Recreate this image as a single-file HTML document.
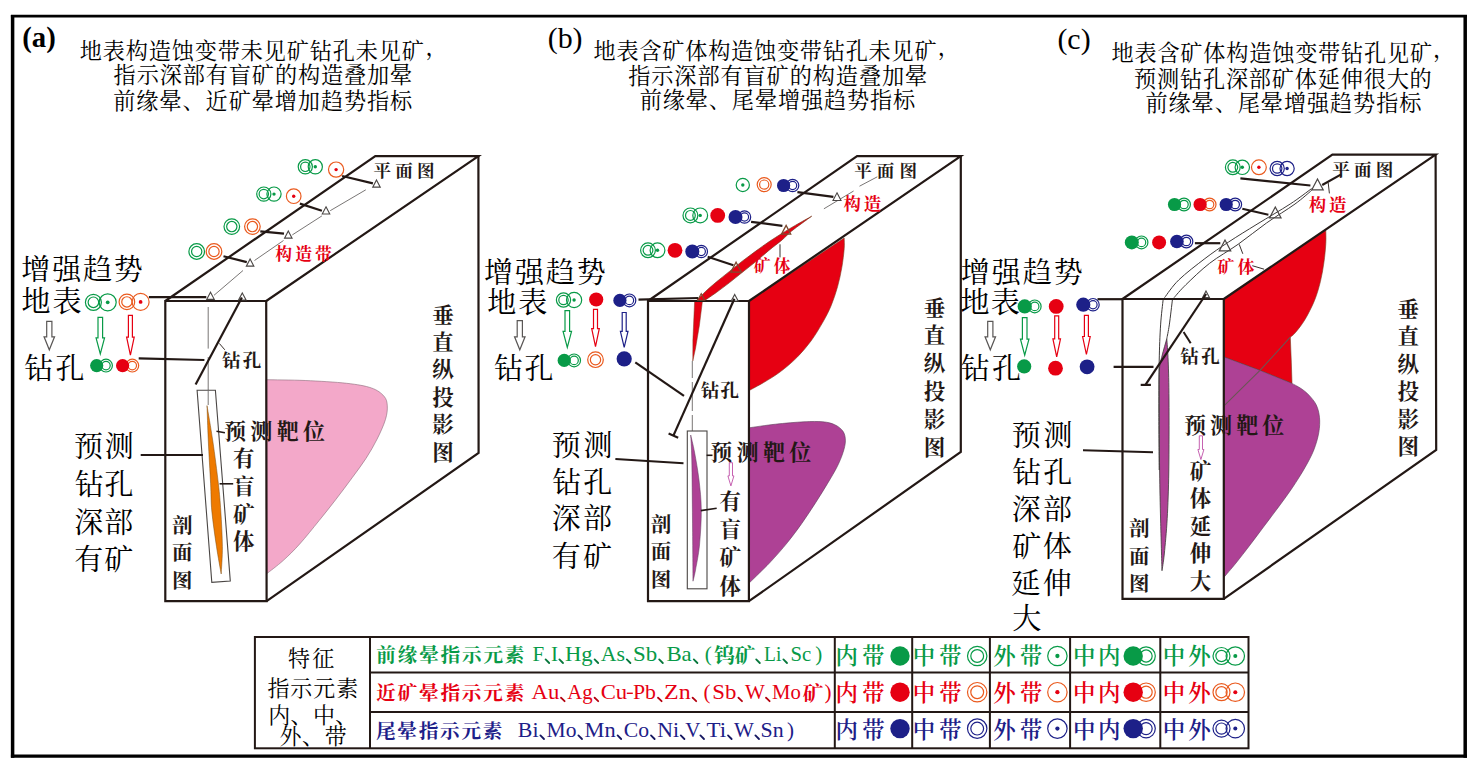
<!DOCTYPE html>
<html lang="zh"><head><meta charset="utf-8"><title>构造叠加晕找盲矿模型</title>
<style>html,body{margin:0;padding:0;background:#fff}body{width:1476px;height:760px;overflow:hidden;font-family:"Liberation Serif",serif}svg{display:block}svg text{font-family:"Liberation Serif","Noto Serif CJK SC",serif}</style>
</head><body>
<svg width="1476" height="760" viewBox="0 0 1476 760">
<rect width="1476" height="760" fill="#fff"/>
<path d="M12.6 14.9V757.8M1465.2 14.9V757.8" stroke="#000" stroke-width="3.5" fill="none"/>
<path d="M10.9 16.2H1467" stroke="#000" stroke-width="2.8" fill="none"/>
<path d="M10.9 756.2H1467" stroke="#000" stroke-width="3.2" fill="none"/>
<text x="22.3" y="47" font-family="'Liberation Serif',serif" font-size="29" font-weight="bold" fill="#000" textLength="33.5" lengthAdjust="spacingAndGlyphs">(a)</text>
<text x="79.87" y="59.01" font-size="22.2" fill="#000" textLength="344.14" lengthAdjust="spacing">地表构造蚀变带未见矿钻孔未见矿</text>
<text x="425.51" y="55.18" font-size="22.2" fill="#000">，</text>
<text x="113.6" y="83.39" font-size="22.2" fill="#000" textLength="298.71" lengthAdjust="spacing">指示深部有盲矿的构造叠加晕</text>
<text x="113.31" y="108.61" font-size="22.2" fill="#000" textLength="298.96" lengthAdjust="spacing">前缘晕、近矿晕增加趋势指标</text>
<text x="547.7" y="47.5" font-family="'Liberation Serif',serif" font-size="29" font-weight="normal" fill="#000" textLength="34.9" lengthAdjust="spacingAndGlyphs">(b)</text>
<text x="593.57" y="59.21" font-size="22.2" fill="#000" textLength="343.04" lengthAdjust="spacing">地表含矿体构造蚀变带钻孔未见矿</text>
<text x="937.71" y="55.38" font-size="22.2" fill="#000">，</text>
<text x="628.2" y="83.74" font-size="22.2" fill="#000" textLength="299.01" lengthAdjust="spacing">指示深部有盲矿的构造叠加晕</text>
<text x="639.81" y="108.23" font-size="22.2" fill="#000" textLength="275.36" lengthAdjust="spacing">前缘晕、尾晕增强趋势指标</text>
<text x="1057.4" y="48.5" font-family="'Liberation Serif',serif" font-size="29" font-weight="normal" fill="#000" textLength="33.2" lengthAdjust="spacingAndGlyphs">(c)</text>
<text x="1111.47" y="61.11" font-size="22.2" fill="#000" textLength="320.64" lengthAdjust="spacing">地表含矿体构造蚀变带钻孔见矿</text>
<text x="1433.11" y="57.13" font-size="22.2" fill="#000">，</text>
<text x="1134.02" y="86.69" font-size="22.2" fill="#000" textLength="297.76" lengthAdjust="spacing">预测钻孔深部矿体延伸很大的</text>
<text x="1145.41" y="111.38" font-size="22.2" fill="#000" textLength="276.06" lengthAdjust="spacing">前缘晕、尾晕增强趋势指标</text>
<path d="M266 379.7 L266 379.7 C272.53 379.83 291.75 379.9 305.2 380.5 C318.65 381.1 335.65 382.05 346.7 383.3 C357.75 384.55 365.28 385.85 371.5 388 C377.72 390.15 381.37 393.22 384 396.2 C386.63 399.18 387.07 401.98 387.3 405.9 C387.53 409.82 387.1 414.17 385.4 419.7 C383.7 425.23 380.33 432.65 377.1 439.1 C373.87 445.55 370.15 451.97 366 458.4 C361.85 464.83 357.27 470.8 352.2 477.7 C347.13 484.6 341.12 492.65 335.6 499.8 C330.08 506.95 325.08 513.23 319.1 520.6 C313.12 527.97 305.7 537.33 299.7 544 C293.7 550.67 288.63 555.62 283.1 560.6 C277.57 565.58 269.27 571.68 266.5 573.9 Z" fill="#f3a8c9" stroke="#8a6a78" stroke-width="0.6"/>
<path d="M165.3 301 L266.2 301 L266.6 601.2 L165.3 601.2 Z" fill="none" stroke="#231815" stroke-width="2.2" stroke-linejoin="miter"/>
<path d="M165.3 301 L375.3 156.1 L478.4 156.1 L266.2 301" fill="none" stroke="#231815" stroke-width="2.2" stroke-linejoin="miter"/>
<path d="M478.4 156.1 L478.6 453 L266.6 601.2" fill="none" stroke="#231815" stroke-width="2.2" stroke-linejoin="miter"/>
<line x1="365.8" y1="189.8" x2="330.2" y2="210.7" stroke="#6a6765" stroke-width="0.9" stroke-linecap="butt"/>
<line x1="321.9" y1="215.9" x2="292.3" y2="234.9" stroke="#6a6765" stroke-width="0.9" stroke-linecap="butt"/>
<line x1="283.5" y1="240.5" x2="254.5" y2="260.5" stroke="#6a6765" stroke-width="0.9" stroke-linecap="butt"/>
<line x1="243" y1="270.5" x2="214" y2="295.3" stroke="#6a6765" stroke-width="0.9" stroke-linecap="butt"/>
<line x1="342.1" y1="176" x2="372.9" y2="183.4" stroke="#231815" stroke-width="2.2" stroke-linecap="butt"/>
<line x1="299.9" y1="203.6" x2="321.9" y2="210.7" stroke="#231815" stroke-width="2.2" stroke-linecap="butt"/>
<line x1="260.3" y1="231.3" x2="284" y2="233.7" stroke="#231815" stroke-width="2.2" stroke-linecap="butt"/>
<line x1="223.5" y1="256.2" x2="246.8" y2="262.1" stroke="#231815" stroke-width="2.2" stroke-linecap="butt"/>
<path d="M376.5 180.03 L380.25 187.15 L372.75 187.15 Z" fill="#fff" stroke="#4a4644" stroke-width="1.1" stroke-linejoin="miter"/>
<path d="M326 206.82 L329.75 213.95 L322.25 213.95 Z" fill="#fff" stroke="#4a4644" stroke-width="1.1" stroke-linejoin="miter"/>
<path d="M288.3 231.03 L292.05 238.15 L284.55 238.15 Z" fill="#fff" stroke="#4a4644" stroke-width="1.1" stroke-linejoin="miter"/>
<path d="M250.1 259.03 L253.85 266.15 L246.35 266.15 Z" fill="#fff" stroke="#4a4644" stroke-width="1.1" stroke-linejoin="miter"/>
<path d="M210.5 292.23 L214.25 299.35 L206.75 299.35 Z" fill="#fff" stroke="#4a4644" stroke-width="1.1" stroke-linejoin="miter"/>
<path d="M242.3 292.93 L246.05 300.05 L238.55 300.05 Z" fill="#fff" stroke="#4a4644" stroke-width="1.1" stroke-linejoin="miter"/>
<g fill="none" stroke="#089a47" stroke-width="1.2"><circle cx="305.3" cy="166.8" r="7.1"/><circle cx="305.3" cy="166.8" r="4.69"/></g>
<circle cx="315.3" cy="166.8" r="7.1" fill="none" stroke="#089a47" stroke-width="1.2"/><circle cx="315.3" cy="166.8" r="1.7" fill="#089a47"/>
<circle cx="336.1" cy="169.6" r="7.6" fill="none" stroke="#ea5a1e" stroke-width="1.2"/><circle cx="336.1" cy="169.6" r="1.7" fill="#e60012"/>
<g fill="none" stroke="#089a47" stroke-width="1.2"><circle cx="263.8" cy="194.1" r="7.1"/><circle cx="263.8" cy="194.1" r="4.69"/></g>
<circle cx="274" cy="194.1" r="7.1" fill="none" stroke="#089a47" stroke-width="1.2"/><circle cx="274" cy="194.1" r="1.7" fill="#089a47"/>
<circle cx="293.7" cy="196.2" r="7.3" fill="none" stroke="#ea5a1e" stroke-width="1.2"/><circle cx="293.7" cy="196.2" r="1.7" fill="#e60012"/>
<g fill="none" stroke="#089a47" stroke-width="1.2"><circle cx="231.8" cy="226.6" r="7.8"/><circle cx="231.8" cy="226.6" r="5.15"/></g>
<g fill="none" stroke="#ea5a1e" stroke-width="1.2"><circle cx="252.4" cy="226.6" r="7.8"/><circle cx="252.4" cy="226.6" r="5.15"/></g>
<g fill="none" stroke="#089a47" stroke-width="1.2"><circle cx="196.7" cy="251.5" r="7.8"/><circle cx="196.7" cy="251.5" r="5.15"/></g>
<g fill="none" stroke="#ea5a1e" stroke-width="1.2"><circle cx="214" cy="251.5" r="7.8"/><circle cx="214" cy="251.5" r="5.15"/></g>
<text x="373.47 395.18 416.89" y="177.44" font-size="17.6" font-weight="bold" fill="#231815">平面图</text>
<text x="275.33 295.15 314.97" y="259.84" font-size="16.8" font-weight="bold" fill="#e60012">构造带</text>
<text x="21.37 52.18 82.99 113.8" y="280.12" font-size="29" fill="#000">增强趋势</text>
<text x="21.54 52.53" y="312.42" font-size="29" fill="#000">地表</text>
<text x="24.27 55.6" y="379.18" font-size="29" fill="#000">钻孔</text>
<g fill="none" stroke="#089a47" stroke-width="1.2"><circle cx="93.4" cy="302.3" r="8"/><circle cx="93.4" cy="302.3" r="5.28"/></g>
<circle cx="107.7" cy="302.3" r="8.5" fill="none" stroke="#089a47" stroke-width="1.2"/><circle cx="107.7" cy="302.3" r="1.87" fill="#089a47"/>
<g fill="none" stroke="#ea5a1e" stroke-width="1.2"><circle cx="126.9" cy="301.9" r="7.8"/><circle cx="126.9" cy="301.9" r="5.15"/></g>
<circle cx="140.6" cy="301.9" r="8.5" fill="none" stroke="#ea5a1e" stroke-width="1.2"/><circle cx="140.6" cy="301.9" r="1.87" fill="#e60012"/>
<path d="M46.7 321.3 L51.9 321.3 L51.9 336.8 L54.55 336.8 L49.3 349.8 L44.05 336.8 L46.7 336.8 Z" fill="#fff" stroke="#5a5756" stroke-width="1.2" stroke-linejoin="miter"/>
<path d="M98 317.3 L102.6 317.3 L102.6 337.8 L104.55 337.8 L100.3 353.8 L96.05 337.8 L98 337.8 Z" fill="#fff" stroke="#089a47" stroke-width="1.2" stroke-linejoin="miter"/>
<path d="M128.4 315.4 L132.4 315.4 L132.4 337.2 L134.2 337.2 L130.4 355.2 L126.6 337.2 L128.4 337.2 Z" fill="#fff" stroke="#e60012" stroke-width="1.2" stroke-linejoin="miter"/>
<g fill="none" stroke="#089a47" stroke-width="1.2"><circle cx="106" cy="365.6" r="6.4"/><circle cx="106" cy="365.6" r="4.22"/></g>
<circle cx="96.7" cy="365.6" r="6.6" fill="#089a47"/>
<g fill="none" stroke="#ea5a1e" stroke-width="1.2"><circle cx="132.3" cy="365.6" r="6.4"/><circle cx="132.3" cy="365.6" r="4.22"/></g>
<circle cx="122.6" cy="365.6" r="6.6" fill="#e60012"/>
<line x1="148.9" y1="297.1" x2="206.3" y2="297.1" stroke="#231815" stroke-width="2.2" stroke-linecap="butt"/>
<line x1="138.7" y1="358.4" x2="204.4" y2="360" stroke="#231815" stroke-width="2.2" stroke-linecap="butt"/>
<line x1="208.2" y1="307" x2="208.2" y2="348.6" stroke="#6a6765" stroke-width="0.9" stroke-linecap="butt"/>
<line x1="208.2" y1="357" x2="208.2" y2="404" stroke="#6a6765" stroke-width="0.9" stroke-linecap="butt"/>
<line x1="241.9" y1="297.6" x2="195.6" y2="384.6" stroke="#231815" stroke-width="2.2" stroke-linecap="butt"/>
<line x1="219.3" y1="343.4" x2="224.8" y2="349.8" stroke="#231815" stroke-width="0.9" stroke-linecap="butt"/>
<text x="222.03 242.86" y="366.62" font-size="18.5" font-weight="bold" fill="#231815">钻孔</text>
<path d="M197.1 390.2 L215.4 390.2 L230.3 581.1 L211.8 582.3 Z" fill="#fff" stroke="#4a4644" stroke-width="1.1" stroke-linejoin="miter"/>
<path d="M207 405.6 C207.22 411.5 207.7 427.97 208.3 441 C208.9 454.03 210.02 472.13 210.6 483.8 C211.18 495.47 210.82 500.52 211.8 511 C212.78 521.48 214.93 536.2 216.5 546.7 C218.07 557.2 220.42 569.45 221.2 574 L221.2 574 C221.4 569.45 222.47 557.2 222.4 546.7 C222.33 536.2 221.47 521.48 220.8 511 C220.13 500.52 219.73 495.47 218.4 483.8 C217.07 472.13 214.7 454.03 212.8 441 C210.9 427.97 207.97 411.5 207 405.6 Z" fill="#ee7a00" stroke="#7a4a10" stroke-width="0.5"/>
<line x1="208.2" y1="391" x2="208.2" y2="405" stroke="#6a6765" stroke-width="0.9" stroke-linecap="butt"/>
<line x1="140.7" y1="454.9" x2="203" y2="454.9" stroke="#231815" stroke-width="2" stroke-linecap="butt"/>
<line x1="216.5" y1="431.2" x2="224.9" y2="432.8" stroke="#231815" stroke-width="1.6" stroke-linecap="butt"/>
<line x1="219.6" y1="483.8" x2="233.2" y2="483.8" stroke="#231815" stroke-width="1.6" stroke-linecap="butt"/>
<text x="223.98 250.36 276.74 303.12" y="438.74" font-size="22" font-weight="bold" fill="#231815">预测靶位</text>
<text x="233.05 233.05 233.05 233.05" y="466.17 493.87 521.57 549.27" font-size="21.5" font-weight="bold" fill="#231815">有盲矿体</text>
<text x="171.95 171.95 171.95" y="532.59 560.09 587.59" font-size="20.5" font-weight="bold" fill="#231815">剖面图</text>
<text x="432.25 432.25 432.25 432.25 432.25 432.25" y="322.67 350.07 377.47 404.87 432.27 459.67" font-size="21.5" font-weight="bold" fill="#231815">垂直纵投影图</text>
<text x="74.12 104.75" y="457.26" font-size="29" fill="#000">预测</text>
<text x="74.68 104.4" y="495.48" font-size="29" fill="#000">钻孔</text>
<text x="74.21 104.14" y="532.86" font-size="29" fill="#000">深部</text>
<text x="74.21 104.23" y="569.58" font-size="29" fill="#000">有矿</text>
<path d="M749 301.2 L844.2 238 L844.2 238 C844.2 239.78 844.6 243.77 844.2 248.7 C843.8 253.63 842.9 261.28 841.8 267.6 C840.7 273.92 839.37 280.28 837.6 286.6 C835.83 292.92 833.65 299.58 831.2 305.5 C828.75 311.42 826.27 316.18 822.9 322.1 C819.53 328.02 815.35 335.08 811 341 C806.65 346.92 801.92 352.47 796.8 357.6 C791.68 362.73 785.82 367.65 780.3 371.8 C774.78 375.95 768.92 379.37 763.7 382.5 C758.48 385.63 751.45 389.25 749 390.6 Z" fill="#e60012" stroke="#7a3a20" stroke-width="0.6"/>
<path d="M749 427.8 C753.42 427.2 766.35 425.2 775.5 424.2 C784.65 423.2 796 422.2 803.9 421.8 C811.8 421.4 817.77 421.32 822.9 421.8 C828.03 422.28 831.35 423.12 834.7 424.7 C838.05 426.28 841.22 428.62 843 431.3 C844.78 433.98 845.4 437.25 845.4 440.8 C845.4 444.35 844.38 448.27 843 452.6 C841.62 456.93 839.67 461.67 837.1 466.8 C834.53 471.93 831.15 477.47 827.6 483.4 C824.05 489.33 820.13 495.68 815.8 502.4 C811.47 509.12 806.33 517 801.6 523.7 C796.87 530.4 792.53 536.28 787.4 542.6 C782.27 548.92 775.93 556.07 770.8 561.6 C765.67 567.13 760.23 572.2 756.6 575.8 C752.97 579.4 750.27 581.97 749 583.2 Z" fill="#ae4195" stroke="#5a3a58" stroke-width="0.6"/>
<path d="M695.6 301 C695.98 300.68 696.2 300.73 697.9 299.1 C699.6 297.47 702.73 294.05 705.8 291.2 C708.87 288.35 712.35 285.3 716.3 282 C720.25 278.7 725.12 274.92 729.5 271.4 C733.88 267.88 738.22 264.28 742.6 260.9 C746.98 257.52 751.42 254.28 755.8 251.1 C760.18 247.92 764.52 244.77 768.9 241.8 C773.28 238.83 777.7 236.03 782.1 233.3 C786.5 230.57 790.37 228.25 795.3 225.4 C800.23 222.55 808.97 217.73 811.7 216.2 L811.7 216.2 C810.05 217.4 805.2 220.88 801.8 223.4 C798.4 225.92 794.58 228.55 791.3 231.3 C788.02 234.05 785.83 236.72 782.1 239.9 C778.37 243.08 773.28 246.78 768.9 250.4 C764.52 254.02 760.18 257.98 755.8 261.6 C751.42 265.22 746.98 268.6 742.6 272.1 C738.22 275.6 733.88 279.2 729.5 282.6 C725.12 286 720.47 289.5 716.3 292.5 C712.13 295.5 706.47 299.25 704.5 300.6 Z" fill="#e60012" stroke="#7a3a20" stroke-width="0.7"/>
<path d="M694.6 301.5 L702.4 301.5 L699.3 326 L695.6 348 L692.8 361 L692.9 340 Z" fill="#e60012" stroke="#7a3a20" stroke-width="0.5" stroke-linejoin="miter"/>
<path d="M648 301 L749 301 L748.9 601.2 L648 601.2 Z" fill="none" stroke="#231815" stroke-width="2.2" stroke-linejoin="miter"/>
<path d="M648 301 L857.1 156.1 L960.8 156.1 L749 301" fill="none" stroke="#231815" stroke-width="2.2" stroke-linejoin="miter"/>
<path d="M960.8 156.1 L960.8 452 L748.9 601.2" fill="none" stroke="#231815" stroke-width="2.2" stroke-linejoin="miter"/>
<line x1="823.9" y1="208.8" x2="853.6" y2="191" stroke="#6a6765" stroke-width="0.9" stroke-linecap="butt"/>
<line x1="859.5" y1="186.2" x2="877.3" y2="176.8" stroke="#6a6765" stroke-width="0.9" stroke-linecap="butt"/>
<line x1="797.4" y1="192.2" x2="833.4" y2="196.9" stroke="#231815" stroke-width="2.2" stroke-linecap="butt"/>
<line x1="751.1" y1="221.8" x2="782.4" y2="225.8" stroke="#231815" stroke-width="2.2" stroke-linecap="butt"/>
<line x1="707.7" y1="256.7" x2="733.4" y2="265.2" stroke="#231815" stroke-width="2.2" stroke-linecap="butt"/>
<line x1="638.5" y1="299.6" x2="698.3" y2="298" stroke="#231815" stroke-width="2.2" stroke-linecap="butt"/>
<path d="M837 192.84 L841 200.44 L833 200.44 Z" fill="#fff" stroke="#4a4644" stroke-width="1.1" stroke-linejoin="miter"/>
<path d="M786.1 225.36 L790.7 234.1 L781.5 234.1 Z" fill="none" stroke="#7d4a30" stroke-width="1.3" stroke-linejoin="miter"/>
<path d="M736.1 262.21 L741.35 272.19 L730.85 272.19 Z" fill="none" stroke="#7d4a30" stroke-width="1.3" stroke-linejoin="miter"/>
<path d="M701.2 293.61 L704.7 300.26 L697.7 300.26 Z" fill="none" stroke="#7d4a30" stroke-width="1.1" stroke-linejoin="miter"/>
<path d="M734.7 294.41 L738.2 301.06 L731.2 301.06 Z" fill="#fff" stroke="#4a4644" stroke-width="1.1" stroke-linejoin="miter"/>
<line x1="780" y1="244.3" x2="780" y2="257.4" stroke="#231815" stroke-width="0.9" stroke-linecap="butt"/>
<circle cx="742.8" cy="185" r="6.6" fill="none" stroke="#089a47" stroke-width="1.2"/><circle cx="742.8" cy="185" r="1.7" fill="#089a47"/>
<g fill="none" stroke="#ea5a1e" stroke-width="1.2"><circle cx="764.2" cy="184.6" r="7"/><circle cx="764.2" cy="184.6" r="4.62"/></g>
<g fill="none" stroke="#1d2088" stroke-width="1.2"><circle cx="792.6" cy="185.5" r="6.2"/><circle cx="792.6" cy="185.5" r="4.09"/></g>
<circle cx="783.6" cy="185.5" r="6.6" fill="#1d2088"/>
<g fill="none" stroke="#089a47" stroke-width="1.2"><circle cx="690.4" cy="215.4" r="7.4"/><circle cx="690.4" cy="215.4" r="4.88"/></g>
<circle cx="700.2" cy="215.4" r="7.4" fill="none" stroke="#089a47" stroke-width="1.2"/><circle cx="700.2" cy="215.4" r="1.7" fill="#089a47"/>
<circle cx="717.7" cy="215.4" r="7.4" fill="#e60012"/>
<g fill="none" stroke="#1d2088" stroke-width="1.2"><circle cx="744.5" cy="217" r="6.2"/><circle cx="744.5" cy="217" r="4.09"/></g>
<circle cx="735.5" cy="217" r="7" fill="#1d2088"/>
<g fill="none" stroke="#089a47" stroke-width="1.2"><circle cx="648" cy="250.3" r="7.4"/><circle cx="648" cy="250.3" r="4.88"/></g>
<circle cx="657.5" cy="250.3" r="7.4" fill="none" stroke="#089a47" stroke-width="1.2"/><circle cx="657.5" cy="250.3" r="1.7" fill="#089a47"/>
<circle cx="675" cy="250.3" r="7.4" fill="#e60012"/>
<g fill="none" stroke="#1d2088" stroke-width="1.2"><circle cx="701.3" cy="251.5" r="6.2"/><circle cx="701.3" cy="251.5" r="4.09"/></g>
<circle cx="692.3" cy="251.5" r="7" fill="#1d2088"/>
<text x="854.17 876.83 899.49" y="177.09" font-size="17.6" font-weight="bold" fill="#231815">平面图</text>
<text x="843.62 863.87" y="210.02" font-size="17.4" font-weight="bold" fill="#e60012">构造</text>
<text x="753.7 773.75" y="272.07" font-size="16.8" font-weight="bold" fill="#e60012">矿体</text>
<text x="484.07 514.95 545.82 576.7" y="282.87" font-size="29" fill="#000">增强趋势</text>
<text x="487.34 518.33" y="312.67" font-size="29" fill="#000">地表</text>
<text x="493.97 524.4" y="378.58" font-size="29" fill="#000">钻孔</text>
<g fill="none" stroke="#089a47" stroke-width="1.2"><circle cx="563.5" cy="300" r="7.1"/><circle cx="563.5" cy="300" r="4.69"/></g>
<circle cx="574.1" cy="300" r="7.6" fill="none" stroke="#089a47" stroke-width="1.2"/><circle cx="574.1" cy="300" r="1.7" fill="#089a47"/>
<circle cx="596.2" cy="299.5" r="7.1" fill="#e60012"/>
<g fill="none" stroke="#1d2088" stroke-width="1.2"><circle cx="629.4" cy="300.4" r="6.4"/><circle cx="629.4" cy="300.4" r="4.22"/></g>
<circle cx="619.9" cy="300.4" r="6.6" fill="#1d2088"/>
<path d="M517.2 320.6 L522.4 320.6 L522.4 336.8 L525.05 336.8 L519.8 349.8 L514.55 336.8 L517.2 336.8 Z" fill="#fff" stroke="#5a5756" stroke-width="1.2" stroke-linejoin="miter"/>
<path d="M565 310.6 L569.6 310.6 L569.6 331.4 L571.55 331.4 L567.3 347.4 L563.05 331.4 L565 331.4 Z" fill="#fff" stroke="#089a47" stroke-width="1.2" stroke-linejoin="miter"/>
<path d="M593.5 309.4 L597.5 309.4 L597.5 328.7 L599.3 328.7 L595.5 346.7 L591.7 328.7 L593.5 328.7 Z" fill="#fff" stroke="#e60012" stroke-width="1.2" stroke-linejoin="miter"/>
<path d="M622.2 312.5 L626.2 312.5 L626.2 331.4 L628 331.4 L624.2 347.4 L620.4 331.4 L622.2 331.4 Z" fill="#fff" stroke="#1d2088" stroke-width="1.2" stroke-linejoin="miter"/>
<g fill="none" stroke="#089a47" stroke-width="1.2"><circle cx="574.1" cy="360.4" r="6.4"/><circle cx="574.1" cy="360.4" r="4.22"/></g>
<circle cx="564.2" cy="360.4" r="6.6" fill="#089a47"/>
<g fill="none" stroke="#ea5a1e" stroke-width="1.2"><circle cx="595.5" cy="359.7" r="7.8"/><circle cx="595.5" cy="359.7" r="5.15"/></g>
<circle cx="624.2" cy="358.8" r="7.6" fill="#1d2088"/>
<line x1="635.3" y1="362.3" x2="684" y2="395.8" stroke="#231815" stroke-width="2.2" stroke-linecap="butt"/>
<line x1="692.3" y1="361" x2="692.3" y2="378" stroke="#6a6765" stroke-width="0.9" stroke-linecap="butt"/>
<line x1="692.3" y1="382" x2="692.3" y2="411" stroke="#6a6765" stroke-width="0.9" stroke-linecap="butt"/>
<line x1="692.3" y1="415" x2="692.3" y2="431" stroke="#6a6765" stroke-width="0.9" stroke-linecap="butt"/>
<line x1="734.4" y1="298.8" x2="673.4" y2="435.6" stroke="#231815" stroke-width="2.2" stroke-linecap="butt"/>
<line x1="668.6" y1="433.6" x2="678.2" y2="437.8" stroke="#231815" stroke-width="2.2" stroke-linecap="butt"/>
<text x="700.63 720.55" y="396.52" font-size="18.5" font-weight="bold" fill="#231815">钻孔</text>
<rect x="687.3" y="431" width="19.7" height="157.8" fill="#fff" stroke="#4a4644" stroke-width="1.1"/>
<path d="M690.7 435 C690.88 439.17 691.5 445.83 691.8 460 C692.1 474.17 692.3 499.8 692.5 520 C692.7 540.2 692.92 571 693 581.2 L693 581.2 C693.42 579.33 694.42 576.03 695.5 570 C696.58 563.97 698.53 555 699.5 545 C700.47 535 701.38 520.83 701.3 510 C701.22 499.17 700.13 489.67 699 480 C697.87 470.33 695.88 459.5 694.5 452 C693.12 444.5 691.33 437.83 690.7 435 Z" fill="#ae4195" stroke="#5a3a58" stroke-width="0.5"/>
<line x1="615.4" y1="459.1" x2="683.5" y2="463.2" stroke="#231815" stroke-width="2" stroke-linecap="butt"/>
<line x1="706.6" y1="455.3" x2="712.5" y2="455.3" stroke="#231815" stroke-width="1.6" stroke-linecap="butt"/>
<line x1="700.8" y1="510.6" x2="716.7" y2="508.2" stroke="#231815" stroke-width="1.6" stroke-linecap="butt"/>
<text x="710.28 736.59 762.9 789.22" y="459.74" font-size="22" font-weight="bold" fill="#231815">预测靶位</text>
<path d="M729.3 462.7 L732.5 462.7 L732.5 475.9 L733.9 475.9 L730.9 485.9 L727.9 475.9 L729.3 475.9 Z" fill="#fff" stroke="#c050a8" stroke-width="0.9" stroke-linejoin="miter"/>
<text x="719.55 719.55 719.55 719.55" y="508.77 537.07 565.37 593.67" font-size="21.5" font-weight="bold" fill="#231815">有盲矿体</text>
<text x="650.75 650.75 650.75" y="532.09 559.49 586.89" font-size="20.5" font-weight="bold" fill="#231815">剖面图</text>
<text x="923.65 923.65 923.65 923.65 923.65 923.65" y="315.67 343.47 371.27 399.07 426.87 454.67" font-size="21.5" font-weight="bold" fill="#231815">垂直纵投影图</text>
<text x="551.72 583.55" y="456.26" font-size="29" fill="#000">预测</text>
<text x="552.27 583.2" y="493.28" font-size="29" fill="#000">钻孔</text>
<text x="551.81 582.94" y="529.41" font-size="29" fill="#000">深部</text>
<text x="551.81 583.03" y="566.78" font-size="29" fill="#000">有矿</text>
<path d="M1223.8 299 L1325.8 230.2 L1325.8 230.2 C1325.8 232.45 1326.12 238.3 1325.8 243.7 C1325.48 249.1 1324.8 256.28 1323.9 262.6 C1323 268.92 1321.97 275.28 1320.4 281.6 C1318.83 287.92 1317.07 294.18 1314.5 300.5 C1311.93 306.82 1308.17 314.17 1305 319.5 C1301.83 324.83 1297.95 329.55 1295.5 332.5 C1293.05 335.45 1291.17 336.42 1290.3 337.2 L1291.3 362.1 L1292 383.4 L1260 370.4 L1223.8 356.9 Z" fill="#e60012" stroke="#7a3a20" stroke-width="0.6"/>
<path d="M1223.8 356.9 L1260 370.4 L1292 383.4 L1292 383.4 C1293.5 384.25 1298.2 386.57 1301 388.5 C1303.8 390.43 1306.25 392.25 1308.8 395 C1311.35 397.75 1314.52 401.25 1316.3 405 C1318.08 408.75 1319.08 412.92 1319.5 417.5 C1319.92 422.08 1319.75 427.08 1318.8 432.5 C1317.85 437.92 1316.1 444.17 1313.8 450 C1311.5 455.83 1308.55 461.25 1305 467.5 C1301.45 473.75 1296.67 481.25 1292.5 487.5 C1288.33 493.75 1284.58 498.75 1280 505 C1275.42 511.25 1270 518.33 1265 525 C1260 531.67 1254.83 538.67 1250 545 C1245.17 551.33 1240.37 557.58 1236 563 C1231.63 568.42 1225.83 575.08 1223.8 577.5 Z" fill="#ae4195" stroke="#5a3a58" stroke-width="0.6"/>
<path d="M1223.7 406.2 L1260 370.4 L1290.3 337.2" fill="none" stroke="#6b5555" stroke-width="1.1" stroke-linejoin="miter"/>
<path d="M1166.8 338.6 C1166 341.5 1163.22 350.93 1162 356 C1160.78 361.07 1159.97 361.67 1159.5 369 C1159.03 376.33 1159.18 383 1159.2 400 C1159.22 417 1159.37 451 1159.6 471 C1159.83 491 1160.2 503.38 1160.6 520 C1161 536.62 1161.77 562.25 1162 570.7 L1162 570.7 C1162.38 567.92 1163.43 562.68 1164.3 554 C1165.17 545.32 1166.45 532.43 1167.2 518.6 C1167.95 504.77 1168.5 490.77 1168.8 471 C1169.1 451.23 1169.1 418.32 1169 400 C1168.9 381.68 1168.57 371.33 1168.2 361.1 C1167.83 350.87 1167.03 342.35 1166.8 338.6 Z" fill="#ae4195" stroke="#3e3a39" stroke-width="0.8"/>
<path d="M1163.2 299 C1162.77 303.32 1161.27 314.55 1160.6 324.9 C1159.93 335.25 1159.48 346.92 1159.2 361.1 C1158.92 375.28 1158.9 391.85 1158.9 410 C1158.9 428.15 1159.15 460 1159.2 470" fill="none" stroke="#3e3a39" stroke-width="1"/>
<path d="M1172.5 299 C1171.97 303.32 1170.25 318.3 1169.3 324.9 C1168.35 331.5 1167.22 336.32 1166.8 338.6" fill="none" stroke="#3e3a39" stroke-width="1"/>
<path d="M1164.5 297.7 C1166.88 294.73 1172.07 286.42 1178.8 279.9 C1185.53 273.38 1196.6 264.92 1204.9 258.6 C1213.2 252.28 1219.92 247.73 1228.6 242 C1237.28 236.27 1246.73 230.53 1257 224.2 C1267.27 217.87 1281.1 209.93 1290.2 204 C1299.3 198.07 1308.03 191.17 1311.6 188.6" fill="none" stroke="#3e3a39" stroke-width="1"/>
<path d="M1174 297.7 C1175.98 295.53 1179.97 290.43 1185.9 284.7 C1191.83 278.97 1200.9 270.03 1209.6 263.3 C1218.3 256.57 1228.62 251.02 1238.1 244.3 C1247.58 237.58 1257.02 229.72 1266.5 223 C1275.98 216.28 1287.48 209.43 1295 204 C1302.52 198.57 1308.83 192.67 1311.6 190.4" fill="none" stroke="#3e3a39" stroke-width="1"/>
<path d="M1122.5 299 L1223.8 299 L1223.8 598.8 L1122.5 598.8 Z" fill="none" stroke="#231815" stroke-width="2.2" stroke-linejoin="miter"/>
<path d="M1122.5 299 L1332.4 154.7 L1435.6 154.7 L1223.8 299" fill="none" stroke="#231815" stroke-width="2.2" stroke-linejoin="miter"/>
<path d="M1435.6 154.7 L1436.2 450 L1223.8 598.8" fill="none" stroke="#231815" stroke-width="2.2" stroke-linejoin="miter"/>
<line x1="1240.4" y1="178.4" x2="1310.4" y2="185.5" stroke="#231815" stroke-width="2.2" stroke-linecap="butt"/>
<line x1="1242.3" y1="208.8" x2="1268.4" y2="214.7" stroke="#231815" stroke-width="2.2" stroke-linecap="butt"/>
<line x1="1194.9" y1="243.2" x2="1220.3" y2="243.2" stroke="#231815" stroke-width="2.2" stroke-linecap="butt"/>
<line x1="1322.2" y1="185" x2="1341.2" y2="174.4" stroke="#231815" stroke-width="2.2" stroke-linecap="butt"/>
<line x1="1328.2" y1="182.7" x2="1329.4" y2="193.4" stroke="#231815" stroke-width="0.9" stroke-linecap="butt"/>
<line x1="1239.2" y1="244.3" x2="1242.8" y2="253.8" stroke="#231815" stroke-width="0.9" stroke-linecap="butt"/>
<line x1="1252.3" y1="265.7" x2="1264.1" y2="269.2" stroke="#231815" stroke-width="0.9" stroke-linecap="butt"/>
<path d="M1317.5 178.94 L1323.25 189.87 L1311.75 189.87 Z" fill="none" stroke="#4a4644" stroke-width="1.2" stroke-linejoin="miter"/>
<path d="M1275.3 206.94 L1281.05 217.87 L1269.55 217.87 Z" fill="none" stroke="#4a4644" stroke-width="1.2" stroke-linejoin="miter"/>
<path d="M1225 239.94 L1230.75 250.87 L1219.25 250.87 Z" fill="none" stroke="#4a4644" stroke-width="1.2" stroke-linejoin="miter"/>
<path d="M1206 291.01 L1209.5 297.66 L1202.5 297.66 Z" fill="#fff" stroke="#4a4644" stroke-width="1.1" stroke-linejoin="miter"/>
<g fill="none" stroke="#089a47" stroke-width="1.2"><circle cx="1232.8" cy="167.3" r="7.4"/><circle cx="1232.8" cy="167.3" r="4.88"/></g>
<circle cx="1242.3" cy="167.3" r="7.2" fill="none" stroke="#089a47" stroke-width="1.2"/><circle cx="1242.3" cy="167.3" r="1.7" fill="#089a47"/>
<circle cx="1258.9" cy="167.3" r="7.4" fill="none" stroke="#ea5a1e" stroke-width="1.2"/><circle cx="1258.9" cy="167.3" r="1.7" fill="#e60012"/>
<g fill="none" stroke="#1d2088" stroke-width="1.2"><circle cx="1277.2" cy="168.5" r="7.1"/><circle cx="1277.2" cy="168.5" r="4.69"/></g>
<circle cx="1287.1" cy="168.5" r="7.1" fill="none" stroke="#1d2088" stroke-width="1.2"/><circle cx="1287.1" cy="168.5" r="1.7" fill="#1d2088"/>
<g fill="none" stroke="#089a47" stroke-width="1.2"><circle cx="1184" cy="204.5" r="6.4"/><circle cx="1184" cy="204.5" r="4.22"/></g>
<circle cx="1174.5" cy="204.5" r="6.6" fill="#089a47"/>
<g fill="none" stroke="#ea5a1e" stroke-width="1.2"><circle cx="1209.6" cy="204.5" r="6.4"/><circle cx="1209.6" cy="204.5" r="4.22"/></g>
<circle cx="1200.1" cy="204.5" r="6.6" fill="#e60012"/>
<g fill="none" stroke="#1d2088" stroke-width="1.2"><circle cx="1235.2" cy="204.5" r="6.4"/><circle cx="1235.2" cy="204.5" r="4.22"/></g>
<circle cx="1226.2" cy="204.5" r="6.6" fill="#1d2088"/>
<g fill="none" stroke="#089a47" stroke-width="1.2"><circle cx="1141.5" cy="242.4" r="6.4"/><circle cx="1141.5" cy="242.4" r="4.22"/></g>
<circle cx="1131.8" cy="242.4" r="7" fill="#089a47"/>
<circle cx="1159.1" cy="242.4" r="7" fill="#e60012"/>
<g fill="none" stroke="#1d2088" stroke-width="1.2"><circle cx="1186.4" cy="241.5" r="6.4"/><circle cx="1186.4" cy="241.5" r="4.22"/></g>
<circle cx="1176.9" cy="241.5" r="6.8" fill="#1d2088"/>
<text x="1332.27 1353.98 1375.69" y="176.09" font-size="17.6" font-weight="bold" fill="#231815">平面图</text>
<text x="1308.82 1329.07" y="210.62" font-size="17.4" font-weight="bold" fill="#e60012">构造</text>
<text x="1217.6 1237.65" y="273.02" font-size="16.8" font-weight="bold" fill="#e60012">矿体</text>
<text x="960.77 991.78 1022.79 1053.8" y="283.12" font-size="29" fill="#000">增强趋势</text>
<text x="960.44 990.73" y="312.67" font-size="29" fill="#000">地表</text>
<text x="960.67 992.1" y="378.58" font-size="29" fill="#000">钻孔</text>
<g fill="none" stroke="#089a47" stroke-width="1.2"><circle cx="1034.7" cy="306.4" r="6.4"/><circle cx="1034.7" cy="306.4" r="4.22"/></g>
<circle cx="1024.7" cy="306.4" r="7.1" fill="#089a47"/>
<circle cx="1056.2" cy="306.4" r="7.4" fill="#e60012"/>
<g fill="none" stroke="#1d2088" stroke-width="1.2"><circle cx="1093" cy="304.7" r="6.2"/><circle cx="1093" cy="304.7" r="4.09"/></g>
<circle cx="1083.3" cy="304.7" r="7.1" fill="#1d2088"/>
<path d="M987.7 321.3 L992.9 321.3 L992.9 336.8 L995.55 336.8 L990.3 349.8 L985.05 336.8 L987.7 336.8 Z" fill="#fff" stroke="#5a5756" stroke-width="1.2" stroke-linejoin="miter"/>
<path d="M1022.4 317.7 L1027 317.7 L1027 339.2 L1028.95 339.2 L1024.7 355.2 L1020.45 339.2 L1022.4 339.2 Z" fill="#fff" stroke="#089a47" stroke-width="1.2" stroke-linejoin="miter"/>
<path d="M1054.7 315.8 L1058.7 315.8 L1058.7 338.9 L1060.5 338.9 L1056.7 356.9 L1052.9 338.9 L1054.7 338.9 Z" fill="#fff" stroke="#e60012" stroke-width="1.2" stroke-linejoin="miter"/>
<path d="M1084.4 315.4 L1088.4 315.4 L1088.4 336.5 L1090.2 336.5 L1086.4 354.5 L1082.6 336.5 L1084.4 336.5 Z" fill="#fff" stroke="#e60012" stroke-width="1.2" stroke-linejoin="miter"/>
<circle cx="1024.2" cy="366.4" r="7.1" fill="#089a47"/>
<circle cx="1055.5" cy="368.2" r="7.4" fill="#e60012"/>
<circle cx="1087.1" cy="366.8" r="7.4" fill="#1d2088"/>
<line x1="1097.5" y1="299.2" x2="1123.1" y2="299.2" stroke="#231815" stroke-width="2.2" stroke-linecap="butt"/>
<line x1="1113.6" y1="366.8" x2="1153.5" y2="366.8" stroke="#231815" stroke-width="2.2" stroke-linecap="butt"/>
<line x1="1206.1" y1="294" x2="1145.6" y2="384.6" stroke="#231815" stroke-width="2.2" stroke-linecap="butt"/>
<line x1="1140.7" y1="384.9" x2="1150.9" y2="384.9" stroke="#231815" stroke-width="2.2" stroke-linecap="butt"/>
<line x1="1183.6" y1="332" x2="1190.7" y2="343.3" stroke="#231815" stroke-width="2" stroke-linecap="butt"/>
<text x="1180.13 1201.15" y="362.67" font-size="18.5" font-weight="bold" fill="#231815">钻孔</text>
<line x1="1083" y1="450.3" x2="1153" y2="452.2" stroke="#231815" stroke-width="2" stroke-linecap="butt"/>
<text x="1183.98 1210.06 1236.14 1262.22" y="432.89" font-size="22" font-weight="bold" fill="#231815">预测靶位</text>
<path d="M1199.3 435.8 L1202.5 435.8 L1202.5 449.5 L1203.9 449.5 L1200.9 459.5 L1197.9 449.5 L1199.3 449.5 Z" fill="#fff" stroke="#c050a8" stroke-width="0.9" stroke-linejoin="miter"/>
<text x="1189.65 1189.65 1189.65 1189.65 1189.65" y="478.77 506.27 533.77 561.27 588.77" font-size="21.5" font-weight="bold" fill="#231815">矿体延伸大</text>
<text x="1129.05 1129.05 1129.05" y="536.39 563.79 591.19" font-size="20.5" font-weight="bold" fill="#231815">剖面图</text>
<text x="1397.45 1397.45 1397.45 1397.45 1397.45 1397.45" y="316.57 344.07 371.57 399.07 426.57 454.07" font-size="21.5" font-weight="bold" fill="#231815">垂直纵投影图</text>
<text x="1011.72 1043.55" y="445.71" font-size="29" fill="#000">预测</text>
<text x="1012.27 1043.2" y="482.78" font-size="29" fill="#000">钻孔</text>
<text x="1011.81 1042.94" y="519.51" font-size="29" fill="#000">深部</text>
<text x="1012.16 1042.8" y="556.88" font-size="29" fill="#000">矿体</text>
<text x="1011.28 1042.65" y="593.67" font-size="29" fill="#000">延伸</text>
<text x="1012.37" y="628.63" font-size="29" fill="#000">大</text>
<g stroke="#231815" stroke-width="2" fill="none">
<rect x="254.9" y="637" width="993.6" height="111.3"/>
<path d="M370 637V748.3M834.8 637V748.3M912.2 637V748.3M989.9 637V748.3M1070.1 637V748.3M1160.3 637V748.3M370 672.4H1248.5M370 712H1248.5"/>
</g>
<text x="288 312.23" y="666.36" font-size="22" fill="#000">特征</text>
<text x="267.41 290.36 313.32 336.28" y="695.67" font-size="22" fill="#000">指示元素</text>
<text x="268.31 290.61 312.91 335.21" y="722.56" font-size="22" fill="#000">内、中、</text>
<text x="279.52 302.12 324.72" y="744.47" font-size="22" fill="#000">外、带</text>
<text x="376.31" y="662.09" font-size="19.6" font-weight="bold" fill="#089a47" textLength="148.1" lengthAdjust="spacing">前缘晕指示元素</text>
<text x="376.17" y="700.18" font-size="19.6" font-weight="bold" fill="#e60012" textLength="148.14" lengthAdjust="spacing">近矿晕指示元素</text>
<text x="376.01" y="738.09" font-size="19.6" font-weight="bold" fill="#1d2088" textLength="126.4" lengthAdjust="spacing">尾晕指示元素</text>
<text x="538.3" y="660.6" font-family="'Liberation Serif',serif" font-size="21" font-weight="normal" fill="#089a47" text-anchor="middle">F</text>
<text x="554.4" y="660.6" font-family="'Liberation Serif',serif" font-size="21" font-weight="normal" fill="#089a47" text-anchor="middle">I</text>
<text x="565" y="660.6" font-family="'Liberation Serif',serif" font-size="21" font-weight="normal" fill="#089a47" textLength="27.7" lengthAdjust="spacingAndGlyphs">Hg</text>
<text x="600.7" y="660.6" font-family="'Liberation Serif',serif" font-size="21" font-weight="normal" fill="#089a47" textLength="24.2" lengthAdjust="spacingAndGlyphs">As</text>
<text x="633" y="660.6" font-family="'Liberation Serif',serif" font-size="21" font-weight="normal" fill="#089a47" textLength="24.2" lengthAdjust="spacingAndGlyphs">Sb</text>
<text x="666.4" y="660.6" font-family="'Liberation Serif',serif" font-size="21" font-weight="normal" fill="#089a47" textLength="25.3" lengthAdjust="spacingAndGlyphs">Ba</text>
<text x="708.2" y="660.6" font-family="'Liberation Serif',serif" font-size="21" font-weight="normal" fill="#089a47" text-anchor="middle">(</text>
<text x="764.1" y="660.6" font-family="'Liberation Serif',serif" font-size="21" font-weight="normal" fill="#089a47" textLength="17.3" lengthAdjust="spacingAndGlyphs">Li</text>
<text x="790.6" y="660.6" font-family="'Liberation Serif',serif" font-size="21" font-weight="normal" fill="#089a47" textLength="20.7" lengthAdjust="spacingAndGlyphs">Sc</text>
<text x="818.8" y="660.6" font-family="'Liberation Serif',serif" font-size="21" font-weight="normal" fill="#089a47" text-anchor="middle">)</text>
<text x="714.29 734.87" y="662.79" font-size="20.5" font-weight="bold" fill="#089a47">钨矿</text>
<path d="M545.6 659.4 l3.6 3.6" stroke="#06763a" stroke-width="1.8" stroke-linecap="round"/>
<path d="M559.4 659.4 l3.6 3.6" stroke="#06763a" stroke-width="1.8" stroke-linecap="round"/>
<path d="M594.6 659.4 l3.6 3.6" stroke="#06763a" stroke-width="1.8" stroke-linecap="round"/>
<path d="M626.8 659.4 l3.6 3.6" stroke="#06763a" stroke-width="1.8" stroke-linecap="round"/>
<path d="M659.2 659.4 l3.6 3.6" stroke="#06763a" stroke-width="1.8" stroke-linecap="round"/>
<path d="M693.8 659.4 l3.6 3.6" stroke="#06763a" stroke-width="1.8" stroke-linecap="round"/>
<path d="M756.2 659.4 l3.6 3.6" stroke="#06763a" stroke-width="1.8" stroke-linecap="round"/>
<path d="M783.4 659.4 l3.6 3.6" stroke="#06763a" stroke-width="1.8" stroke-linecap="round"/>
<text x="531.6" y="698.8" font-family="'Liberation Serif',serif" font-size="21" font-weight="normal" fill="#e60012" textLength="27.7" lengthAdjust="spacingAndGlyphs">Au</text>
<text x="567.3" y="698.8" font-family="'Liberation Serif',serif" font-size="21" font-weight="normal" fill="#e60012" textLength="25.4" lengthAdjust="spacingAndGlyphs">Ag</text>
<text x="600.7" y="698.8" font-family="'Liberation Serif',serif" font-size="21" font-weight="normal" fill="#e60012" textLength="26.5" lengthAdjust="spacingAndGlyphs">Cu</text>
<text x="633" y="698.8" font-family="'Liberation Serif',serif" font-size="21" font-weight="normal" fill="#e60012" textLength="23" lengthAdjust="spacingAndGlyphs">Pb</text>
<text x="664" y="698.8" font-family="'Liberation Serif',serif" font-size="21" font-weight="normal" fill="#e60012" textLength="26.6" lengthAdjust="spacingAndGlyphs">Zn</text>
<text x="707.1" y="698.8" font-family="'Liberation Serif',serif" font-size="21" font-weight="normal" fill="#e60012" text-anchor="middle">(</text>
<text x="712.3" y="698.8" font-family="'Liberation Serif',serif" font-size="21" font-weight="normal" fill="#e60012" textLength="24.1" lengthAdjust="spacingAndGlyphs">Sb</text>
<text x="754.9" y="698.8" font-family="'Liberation Serif',serif" font-size="21" font-weight="normal" fill="#e60012" text-anchor="middle">W</text>
<text x="772.1" y="698.8" font-family="'Liberation Serif',serif" font-size="21" font-weight="normal" fill="#e60012" textLength="28.8" lengthAdjust="spacingAndGlyphs">Mo</text>
<text x="828" y="698.8" font-family="'Liberation Serif',serif" font-size="21" font-weight="normal" fill="#e60012" text-anchor="middle">)</text>
<text x="802.73" y="700.79" font-size="20.5" font-weight="bold" fill="#e60012">矿</text>
<path d="M561 697.6 l3.6 3.6" stroke="#b3000e" stroke-width="1.8" stroke-linecap="round"/>
<path d="M594.6 697.6 l3.6 3.6" stroke="#b3000e" stroke-width="1.8" stroke-linecap="round"/>
<path d="M658 697.6 l3.6 3.6" stroke="#b3000e" stroke-width="1.8" stroke-linecap="round"/>
<path d="M692.6 697.6 l3.6 3.6" stroke="#b3000e" stroke-width="1.8" stroke-linecap="round"/>
<path d="M738.4 697.6 l3.6 3.6" stroke="#b3000e" stroke-width="1.8" stroke-linecap="round"/>
<path d="M766 697.6 l3.6 3.6" stroke="#b3000e" stroke-width="1.8" stroke-linecap="round"/>
<path d="M626.8 693.3 h6" stroke="#e60012" stroke-width="1.4"/>
<text x="517.8" y="736.6" font-family="'Liberation Serif',serif" font-size="21" font-weight="normal" fill="#1d2088" textLength="20.7" lengthAdjust="spacingAndGlyphs">Bi</text>
<text x="546.6" y="736.6" font-family="'Liberation Serif',serif" font-size="21" font-weight="normal" fill="#1d2088" textLength="29.9" lengthAdjust="spacingAndGlyphs">Mo</text>
<text x="584.6" y="736.6" font-family="'Liberation Serif',serif" font-size="21" font-weight="normal" fill="#1d2088" textLength="31.1" lengthAdjust="spacingAndGlyphs">Mn</text>
<text x="623.8" y="736.6" font-family="'Liberation Serif',serif" font-size="21" font-weight="normal" fill="#1d2088" textLength="25.3" lengthAdjust="spacingAndGlyphs">Co</text>
<text x="657.2" y="736.6" font-family="'Liberation Serif',serif" font-size="21" font-weight="normal" fill="#1d2088" textLength="21.8" lengthAdjust="spacingAndGlyphs">Ni</text>
<text x="692.85" y="736.6" font-family="'Liberation Serif',serif" font-size="21" font-weight="normal" fill="#1d2088" text-anchor="middle">V</text>
<text x="706.5" y="736.6" font-family="'Liberation Serif',serif" font-size="21" font-weight="normal" fill="#1d2088" textLength="19.6" lengthAdjust="spacingAndGlyphs">Ti</text>
<text x="743.9" y="736.6" font-family="'Liberation Serif',serif" font-size="21" font-weight="normal" fill="#1d2088" text-anchor="middle">W</text>
<text x="760.6" y="736.6" font-family="'Liberation Serif',serif" font-size="21" font-weight="normal" fill="#1d2088" textLength="23.1" lengthAdjust="spacingAndGlyphs">Sn</text>
<text x="790.55" y="736.6" font-family="'Liberation Serif',serif" font-size="21" font-weight="normal" fill="#1d2088" text-anchor="middle">)</text>
<path d="M540.4 735.4 l3.6 3.6" stroke="#141660" stroke-width="1.8" stroke-linecap="round"/>
<path d="M578.4 735.4 l3.6 3.6" stroke="#141660" stroke-width="1.8" stroke-linecap="round"/>
<path d="M617.6 735.4 l3.6 3.6" stroke="#141660" stroke-width="1.8" stroke-linecap="round"/>
<path d="M651 735.4 l3.6 3.6" stroke="#141660" stroke-width="1.8" stroke-linecap="round"/>
<path d="M680.8 735.4 l3.6 3.6" stroke="#141660" stroke-width="1.8" stroke-linecap="round"/>
<path d="M700.4 735.4 l3.6 3.6" stroke="#141660" stroke-width="1.8" stroke-linecap="round"/>
<path d="M728 735.4 l3.6 3.6" stroke="#141660" stroke-width="1.8" stroke-linecap="round"/>
<path d="M755.4 735.4 l3.6 3.6" stroke="#141660" stroke-width="1.8" stroke-linecap="round"/>
<text x="835.38 862.15" y="663.85" font-size="22.4" font-weight="600" fill="#089a47">内带</text>
<circle cx="900" cy="656" r="9.7" fill="#089a47"/>
<text x="912.74 939.25" y="663.85" font-size="22.4" font-weight="600" fill="#089a47">中带</text>
<g fill="none" stroke="#089a47" stroke-width="1.2"><circle cx="977.2" cy="656" r="9.7"/><circle cx="977.2" cy="656" r="6.4"/></g>
<text x="993.27 1020.05" y="663.81" font-size="22.4" font-weight="600" fill="#089a47">外带</text>
<circle cx="1057.4" cy="656" r="9.7" fill="none" stroke="#089a47" stroke-width="1.2"/><circle cx="1057.4" cy="656" r="2.13" fill="#089a47"/>
<text x="1072.94 1097.88" y="663.85" font-size="22.4" font-weight="600" fill="#089a47">中内</text>
<g fill="none" stroke="#089a47" stroke-width="1.2"><circle cx="1146.1" cy="656" r="9.2"/><circle cx="1146.1" cy="656" r="6.07"/></g>
<circle cx="1133.2" cy="656" r="9.7" fill="#089a47"/>
<text x="1162.74 1188.37" y="663.83" font-size="22.4" font-weight="600" fill="#089a47">中外</text>
<g fill="none" stroke="#089a47" stroke-width="1.2"><circle cx="1221.5" cy="656" r="8.5"/><circle cx="1221.5" cy="656" r="5.61"/></g>
<circle cx="1235.3" cy="656" r="9.2" fill="none" stroke="#089a47" stroke-width="1.2"/><circle cx="1235.3" cy="656" r="2.02" fill="#089a47"/>
<text x="835.38 862.15" y="700.7" font-size="22.4" font-weight="600" fill="#e60012">内带</text>
<circle cx="900" cy="692.2" r="9.7" fill="#e60012"/>
<text x="912.74 939.25" y="700.7" font-size="22.4" font-weight="600" fill="#e60012">中带</text>
<g fill="none" stroke="#ea5a1e" stroke-width="1.2"><circle cx="977.2" cy="692.2" r="9.7"/><circle cx="977.2" cy="692.2" r="6.4"/></g>
<text x="993.27 1020.05" y="700.66" font-size="22.4" font-weight="600" fill="#e60012">外带</text>
<circle cx="1057.4" cy="692.2" r="9.7" fill="none" stroke="#ea5a1e" stroke-width="1.2"/><circle cx="1057.4" cy="692.2" r="2.13" fill="#e60012"/>
<text x="1072.94 1097.88" y="700.7" font-size="22.4" font-weight="600" fill="#e60012">中内</text>
<g fill="none" stroke="#ea5a1e" stroke-width="1.2"><circle cx="1146.1" cy="692.2" r="9.2"/><circle cx="1146.1" cy="692.2" r="6.07"/></g>
<circle cx="1133.2" cy="692.2" r="9.7" fill="#e60012"/>
<text x="1162.74 1188.37" y="700.68" font-size="22.4" font-weight="600" fill="#e60012">中外</text>
<g fill="none" stroke="#ea5a1e" stroke-width="1.2"><circle cx="1221.5" cy="692.2" r="8.5"/><circle cx="1221.5" cy="692.2" r="5.61"/></g>
<circle cx="1235.3" cy="692.2" r="9.2" fill="none" stroke="#ea5a1e" stroke-width="1.2"/><circle cx="1235.3" cy="692.2" r="2.02" fill="#e60012"/>
<text x="835.38 862.15" y="737.9" font-size="22.4" font-weight="600" fill="#1d2088">内带</text>
<circle cx="900" cy="728.6" r="9.7" fill="#1d2088"/>
<text x="912.74 939.25" y="737.9" font-size="22.4" font-weight="600" fill="#1d2088">中带</text>
<g fill="none" stroke="#1d2088" stroke-width="1.2"><circle cx="977.2" cy="728.6" r="9.7"/><circle cx="977.2" cy="728.6" r="6.4"/></g>
<text x="993.27 1020.05" y="737.86" font-size="22.4" font-weight="600" fill="#1d2088">外带</text>
<circle cx="1057.4" cy="728.6" r="9.7" fill="none" stroke="#1d2088" stroke-width="1.2"/><circle cx="1057.4" cy="728.6" r="2.13" fill="#1d2088"/>
<text x="1072.94 1097.88" y="737.9" font-size="22.4" font-weight="600" fill="#1d2088">中内</text>
<g fill="none" stroke="#1d2088" stroke-width="1.2"><circle cx="1146.1" cy="728.6" r="9.2"/><circle cx="1146.1" cy="728.6" r="6.07"/></g>
<circle cx="1133.2" cy="728.6" r="9.7" fill="#1d2088"/>
<text x="1162.74 1188.37" y="737.88" font-size="22.4" font-weight="600" fill="#1d2088">中外</text>
<g fill="none" stroke="#1d2088" stroke-width="1.2"><circle cx="1221.5" cy="728.6" r="8.5"/><circle cx="1221.5" cy="728.6" r="5.61"/></g>
<circle cx="1235.3" cy="728.6" r="9.2" fill="none" stroke="#1d2088" stroke-width="1.2"/><circle cx="1235.3" cy="728.6" r="2.02" fill="#1d2088"/>
</svg>
</body></html>
